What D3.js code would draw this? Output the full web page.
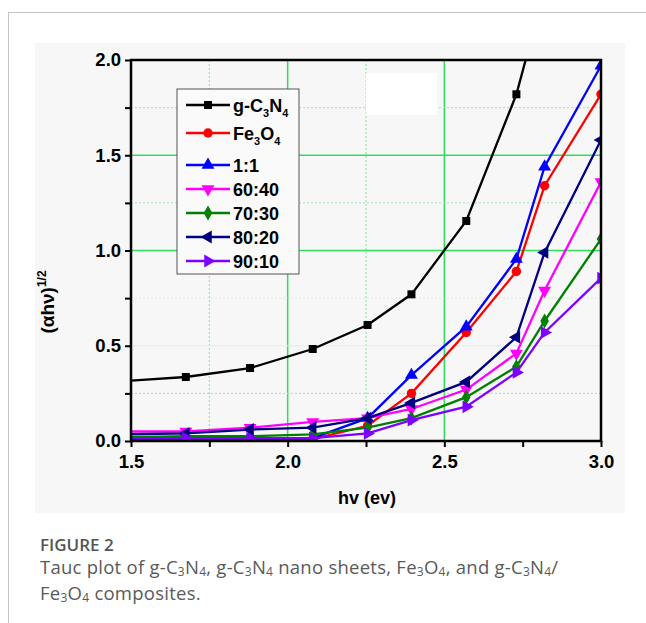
<!DOCTYPE html>
<html>
<head>
<meta charset="utf-8">
<script src="https://cdn.jsdelivr.net/npm/d3@7"></script>
<style>
body { margin: 0; background: #fff; }
svg text { font-family: "Liberation Sans", Arial, Helvetica, sans-serif; }
svg text.cap { font-family: "Open Sans", "Noto Sans", sans-serif; fill: #5a5a5a; }
</style>
</head>
<body>
<div id="plot"></div>
<script>
const width = 646;
const height = 623;

// ----- DATA ------------------------//
const hv = [1.48, 1.675, 1.88, 2.08, 2.255, 2.395, 2.57, 2.73, 2.82, 3.0];
const gC3N4 = [0.315, 0.336, 0.383, 0.483, 0.609, 0.77, 1.155, 1.82, 2.37, 2.9];
const fe3o4 = [0.0, 0.0, 0.0, 0.01, 0.08, 0.25, 0.57, 0.89, 1.34, 1.82];
const r11 = [0.01, 0.01, 0.01, 0.015, 0.12, 0.346, 0.60, 0.955, 1.44, 1.97];
const r6040 = [0.05, 0.05, 0.07, 0.10, 0.12, 0.168, 0.27, 0.46, 0.79, 1.36];
const r7030 = [0.02, 0.025, 0.025, 0.035, 0.07, 0.12, 0.23, 0.39, 0.63, 1.06];
const r8020 = [0.035, 0.04, 0.06, 0.07, 0.12, 0.20, 0.31, 0.545, 0.99, 1.58];
const r9010 = [0.015, 0.015, 0.015, 0.015, 0.04, 0.11, 0.18, 0.36, 0.57, 0.855];

const seriesNames = ["g-C3N4", "Fe3O4", "1:1", "60:40", "70:30", "80:20", "90:10"];
const seriesVals = [gC3N4, fe3o4, r11, r6040, r7030, r8020, r9010];
const seriesColors = ["#000000", "#ff0000", "#0000ff", "#ff00ff", "#008000", "#000080", "#8000ff"];
const seriesMarks = ["square", "circle", "up", "down", "diamond", "left", "right"];
const xTicks = [1.5, 2.0, 2.5, 3.0];
const yTicks = [0.0, 0.5, 1.0, 1.5, 2.0];

const svg = d3.select("#plot").append("svg")
    .attr("width", width)
    .attr("height", height);

// page frame + image background
svg.append("line").attr("x1", 8).attr("x2", width).attr("y1", 12.5).attr("y2", 12.5)
    .attr("stroke", "#c4c4c4").attr("stroke-width", 1);
svg.append("line").attr("x1", 8.5).attr("x2", 8.5).attr("y1", 12).attr("y2", height)
    .attr("stroke", "#c4c4c4").attr("stroke-width", 1);
svg.append("rect").attr("x", 35).attr("y", 43).attr("width", 590).attr("height", 470)
    .attr("fill", "#f7f7f7");

// plot box
const L = 131, R = 601, T = 60, B = 441;
const xScl = d3.scaleLinear().domain([1.5, 3.0]).range([L, R]);
const yScl = d3.scaleLinear().domain([0, 2.0]).range([B, T]);

// grid
const grid = svg.append("g");
[1.75, 2.25].forEach(v => grid.append("line")
    .attr("x1", xScl(v)).attr("x2", xScl(v)).attr("y1", T).attr("y2", B)
    .attr("stroke", "#7ee89a").attr("stroke-width", 1).attr("stroke-dasharray", "2,2"));
[2.0, 2.5].forEach(v => grid.append("line")
    .attr("x1", xScl(v)).attr("x2", xScl(v)).attr("y1", T).attr("y2", B)
    .attr("stroke", "#2fe05a").attr("stroke-width", 1.5));
[0.25, 0.75, 1.25, 1.75].forEach(v => grid.append("line")
    .attr("x1", L).attr("x2", R).attr("y1", yScl(v)).attr("y2", yScl(v))
    .attr("stroke", "#9be8ad").attr("stroke-width", 1).attr("stroke-dasharray", "2,2")
    .attr("opacity", v == 0.75 ? 0.4 : 1));
grid.append("line").attr("x1", L).attr("x2", R).attr("y1", yScl(0.5)).attr("y2", yScl(0.5))
    .attr("stroke", "#e4ece6").attr("stroke-width", 1);
[1.0, 1.5].forEach(v => grid.append("line")
    .attr("x1", L).attr("x2", R).attr("y1", yScl(v)).attr("y2", yScl(v))
    .attr("stroke", "#2fe05a").attr("stroke-width", 1.5));

// white patch in the original image
svg.append("rect").attr("x", 366).attr("y", 73).attr("width", 71).attr("height", 42).attr("fill", "#fff");

// axes
const xAxis = d3.axisBottom(xScl).tickValues(d3.range(1.5, 3.01, 0.25))
    .tickSize(6).tickFormat(d => xTicks.some(t => Math.abs(t - d) < 1e-6) ? d3.format(".1f")(d) : "");
const yAxis = d3.axisLeft(yScl).tickValues(d3.range(0, 2.01, 0.25))
    .tickSize(6).tickFormat(d => yTicks.some(t => Math.abs(t - d) < 1e-6) ? d3.format(".1f")(d) : "");

const gx = svg.append("g").attr("transform", "translate(0," + B + ")").call(xAxis);
const gy = svg.append("g").attr("transform", "translate(" + L + ",0)").call(yAxis);
[gx, gy].forEach(g => {
    g.attr("font-size", null).attr("font-family", null);
    g.select(".domain").remove();
    g.selectAll("line").attr("stroke", "#000").attr("stroke-width", 2);
    g.selectAll("text").style("font-size", "18.5px").style("font-weight", "bold").attr("fill", "#000");
});
gx.selectAll("text").attr("dy", "0.95em");
gy.selectAll("text").attr("dx", "-0.05em");

// clip + lines
svg.append("clipPath").attr("id", "clip").append("rect")
    .attr("x", L).attr("y", T).attr("width", R - L).attr("height", B - T);

const line = d3.line().x((d, i) => xScl(hv[i])).y(d => yScl(d));

const symbolFor = {
    square: d3.symbol().type(d3.symbolSquare).size(64),
    circle: d3.symbol().type(d3.symbolCircle).size(70),
    up: d3.symbol().type(d3.symbolTriangle).size(72),
    down: d3.symbol().type(d3.symbolTriangle).size(72),
    diamond: d3.symbol().type(d3.symbolDiamond).size(64),
    left: d3.symbol().type(d3.symbolTriangle).size(72),
    right: d3.symbol().type(d3.symbolTriangle).size(72)
};
const rot = { square: 0, circle: 0, up: 0, down: 180, diamond: 0, left: -90, right: 90 };

const plotG = svg.append("g").attr("clip-path", "url(#clip)");
seriesVals.forEach((vals, k) => {
    const g = plotG.append("g");
    g.append("path").attr("d", line(vals)).attr("fill", "none")
        .attr("stroke", seriesColors[k]).attr("stroke-width", 2.3);
    g.selectAll("path.pt").data(vals).enter().append("path")
        .attr("class", "pt")
        .attr("d", symbolFor[seriesMarks[k]])
        .attr("transform", (d, i) => "translate(" + xScl(hv[i]) + "," + yScl(d) + ") rotate(" + rot[seriesMarks[k]] + ")")
        .attr("fill", seriesColors[k]);
});

// frame
svg.append("rect").attr("x", L).attr("y", T).attr("width", R - L).attr("height", B - T)
    .attr("fill", "none").attr("stroke", "#000").attr("stroke-width", 2.5);

// legend
const legY = [105, 133, 165, 189, 213, 237, 261];
const leg = svg.append("g");
leg.append("rect").attr("x", 177).attr("y", 89).attr("width", 122).attr("height", 185)
    .attr("fill", "#fafafa").attr("stroke", "#555").attr("stroke-width", 1);
seriesNames.forEach((n, k) => {
    leg.append("line").attr("x1", 186).attr("x2", 230).attr("y1", legY[k]).attr("y2", legY[k])
        .attr("stroke", seriesColors[k]).attr("stroke-width", 2.3);
    leg.append("path").attr("d", symbolFor[seriesMarks[k]])
        .attr("transform", "translate(208," + legY[k] + ") rotate(" + rot[seriesMarks[k]] + ")")
        .attr("fill", seriesColors[k]);
    const t = leg.append("text").attr("x", 233).attr("y", legY[k] + 6.5)
        .style("font-size", "18px").style("font-weight", "bold");
    const m = n.match(/^(g-C)3(N)4$|^(Fe)3(O)4$/);
    if (m) {
        const a = m[1] || m[3], b = m[2] || m[4];
        t.append("tspan").text(a);
        t.append("tspan").style("font-size", "11px").attr("dy", 5).text("3");
        t.append("tspan").attr("dy", -5).text(b);
        t.append("tspan").style("font-size", "11px").attr("dy", 5).text("4");
    } else {
        t.text(n);
    }
});

// axis titles
svg.append("text").attr("x", 367).attr("y", 504).attr("text-anchor", "middle")
    .style("font-size", "18px").style("font-weight", "bold").text("hv (ev)");
const yl = svg.append("text").attr("transform", "translate(54,302) rotate(-90)")
    .attr("text-anchor", "middle").style("font-size", "19px").style("font-weight", "bold");
yl.append("tspan").text("(\u03b1h\u03bd)");
yl.append("tspan").style("font-size", "12px").attr("dy", -8).text("1/2");

// caption
svg.append("text").attr("class", "cap").attr("x", 40).attr("y", 551)
    .style("font-size", "17px").style("font-weight", "600").style("fill", "#555").text("FIGURE 2");
const sub = (t, s) => { t.append("tspan").style("font-size", "12px").attr("dy", 2).text(s); };
const norm = (t, s) => { t.append("tspan").attr("dy", -2).text(s); };
const c1 = svg.append("text").attr("class", "cap").attr("x", 40).attr("y", 574)
    .style("font-size", "18.5px").style("letter-spacing", "0.25px");
c1.append("tspan").text("Tauc plot of g-C");
sub(c1, "3"); norm(c1, "N"); sub(c1, "4"); norm(c1, ", g-C");
sub(c1, "3"); norm(c1, "N"); sub(c1, "4"); norm(c1, " nano sheets, Fe");
sub(c1, "3"); norm(c1, "O"); sub(c1, "4"); norm(c1, ", and g-C");
sub(c1, "3"); norm(c1, "N"); sub(c1, "4"); norm(c1, "/");
const c2 = svg.append("text").attr("class", "cap").attr("x", 40).attr("y", 599.5)
    .style("font-size", "18.5px").style("letter-spacing", "0.25px");
c2.append("tspan").text("Fe");
sub(c2, "3"); norm(c2, "O"); sub(c2, "4"); norm(c2, " composites.");
</script>
</body>
</html>
